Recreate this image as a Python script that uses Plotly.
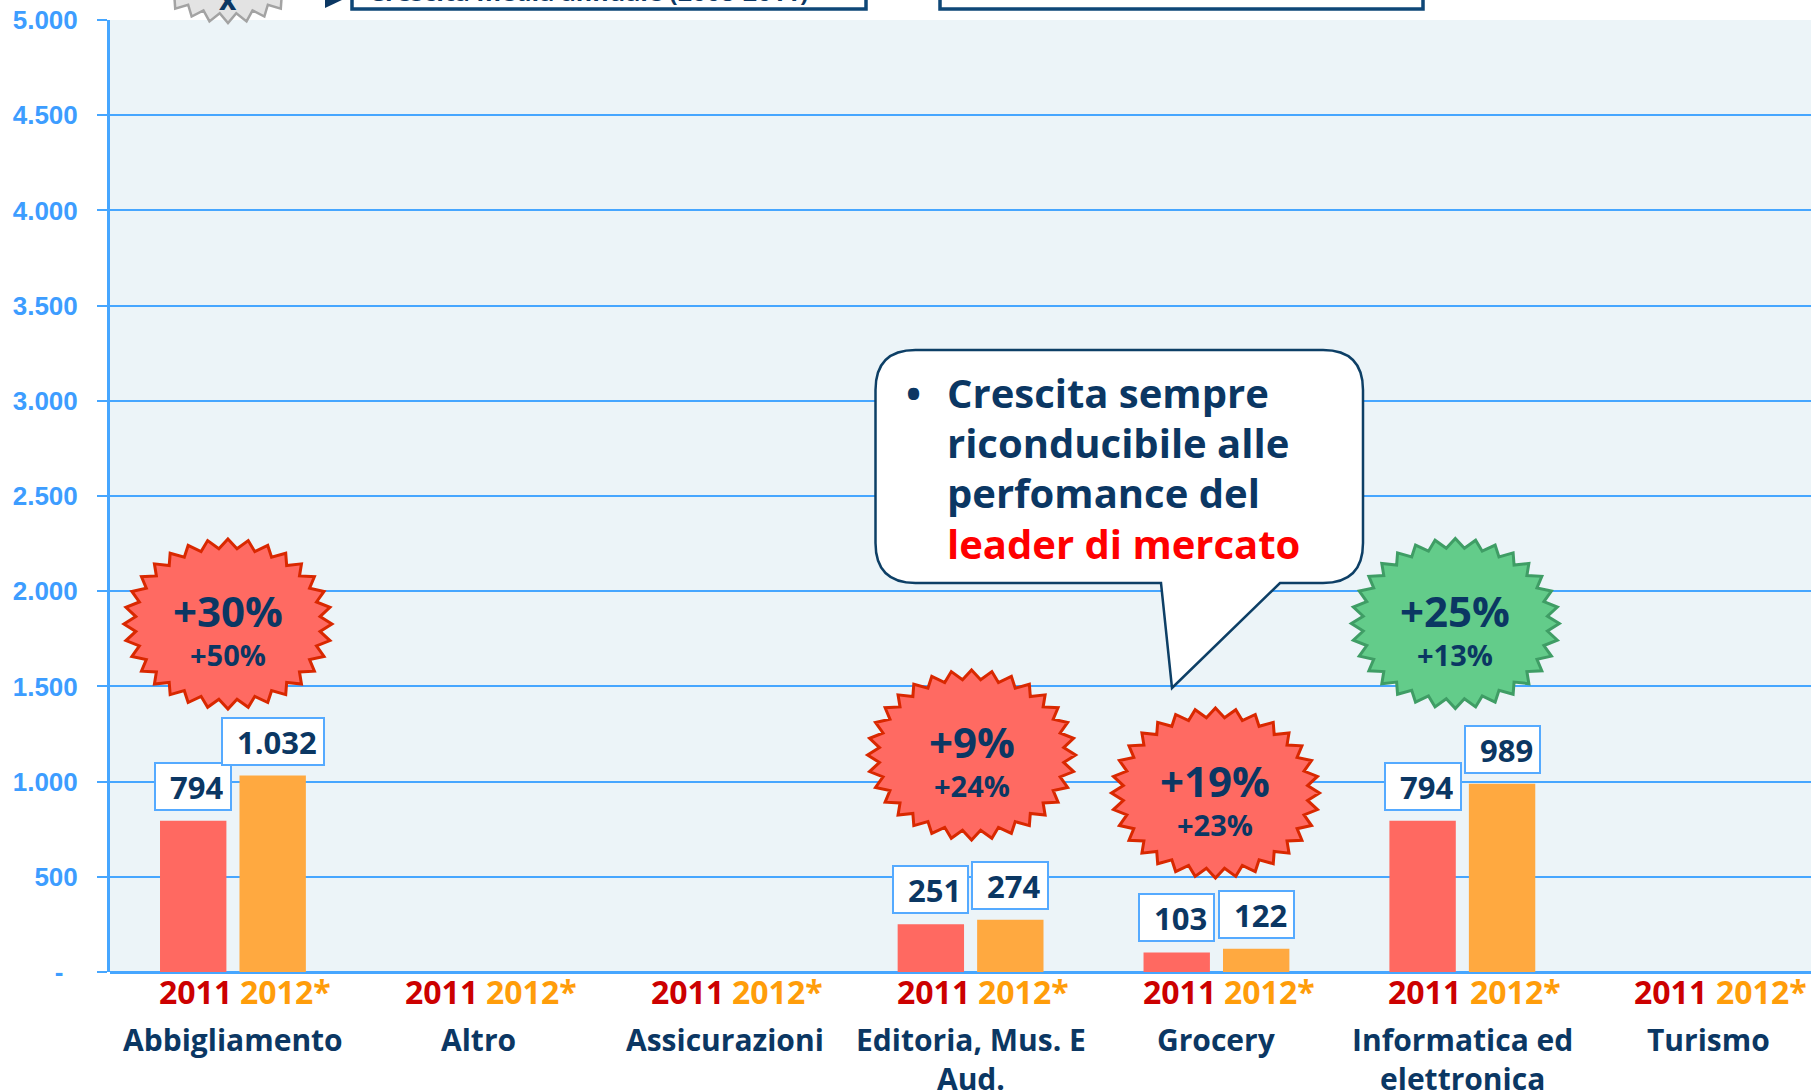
import numpy as np
import plotly.graph_objects as go

# ---------------- data ----------------
categories = ["Abbigliamento", "Altro", "Assicurazioni", "Editoria, Mus. E<br>Aud.",
              "Grocery", "Informatica ed<br>elettronica", "Turismo"]
series_names = ["2011", "2012*"]
values_2011 = [794, None, None, 251, 103, 794, None]
values_2012 = [1032, None, None, 274, 122, 989, None]
labels_2011 = ["794", "", "", "251", "103", "794", ""]
labels_2012 = ["1.032", "", "", "274", "122", "989", ""]
y_tick_values = [0, 500, 1000, 1500, 2000, 2500, 3000, 3500, 4000, 4500, 5000]
y_tick_labels = ["-\u00a0\u00a0", "500", "1.000", "1.500", "2.000", "2.500",
                 "3.000", "3.500", "4.000", "4.500", "5.000"]
burst_categories = [0, 3, 4, 5]
burst_big = ["+30%", "+9%", "+19%", "+25%"]
burst_small = ["+50%", "+24%", "+23%", "+13%"]
legend_box_text = "Crescita media annuale (2008-2011)"
callout_lines = ["Crescita sempre", "riconducibile alle", "perfomance del", "leader di mercato"]

# ---------------- layout constants ----------------
SW, SH = 1811, 1091                      # page / figure size
S_LEFT, S_TOP, S_BOTTOM = 110, 20, 972   # plot area edges
W, H = SW, SH
ML, MT = S_LEFT, S_TOP
MB = H - S_BOTTOM
MR = 0
X_RANGE = [-0.5, 6.418]
Y_RANGE = [0, 5000]
PW, PH = W - ML - MR, H - MT - MB
XPX = PW / (X_RANGE[1] - X_RANGE[0])
YPX = PH / (Y_RANGE[1] - Y_RANGE[0])

BARGAP, BARGROUPGAP = 0.3536, 0.1646
SLOT = (1 - BARGAP) / 2
OFF = SLOT / 2
BAR_W = SLOT * (1 - BARGROUPGAP)

NAVY = "#0b3763"
BLUE = "#46a6ff"
RED_BAR = "#ff6961"
ORANGE_BAR = "#ffa940"
FONT = "Open Sans"


def cat_px(i):
    return S_LEFT + (i - X_RANGE[0]) * XPX


def val_py(v):
    return S_BOTTOM - (v - Y_RANGE[0]) * YPX


def px_x(px):
    return X_RANGE[0] + (px - S_LEFT) / XPX


def py_y(py):
    return Y_RANGE[0] + (S_BOTTOM - py) / YPX


def px_paper(px):
    return (px - S_LEFT) / PW


def py_paper(py):
    return (S_BOTTOM - py) / PH


def burst_points(cx, cy, rx, ry, n=32, depth=0.89):
    pts = []
    for k in range(2 * n):
        a = np.pi * k / n - np.pi / 2
        r = 1.0 if k % 2 == 0 else depth
        pts.append((cx + r * rx * np.cos(a), cy + r * ry * np.sin(a)))
    return pts


def path_from(pts, fx, fy):
    return "M " + " L ".join(f"{fx(p[0]):.5f},{fy(p[1]):.5f}" for p in pts) + " Z"


x_idx = list(range(len(categories)))

fig = go.Figure()
fig.add_trace(go.Bar(x=x_idx, y=values_2011, name=series_names[0],
                     marker=dict(color=RED_BAR, line=dict(width=0))))
fig.add_trace(go.Bar(x=x_idx, y=values_2012, name=series_names[1],
                     marker=dict(color=ORANGE_BAR, line=dict(width=0))))

shapes = []
annotations = []

# value label boxes
for i in x_idx:
    for vals, labs, sgn in ((values_2011, labels_2011, -1), (values_2012, labels_2012, 1)):
        if vals[i] is None:
            continue
        annotations.append(dict(
            x=i + sgn * OFF, y=vals[i], xref="x", yref="y", yanchor="bottom",
            xanchor="center", yshift=10, showarrow=False,
            text="\u00a0" + labs[i], font=dict(family=FONT, size=31, color=NAVY, weight="bold"),
            bgcolor="white", bordercolor="#55aaff", borderwidth=2, borderpad=6, height=33))

# category year labels + names
for i in x_idx:
    annotations.append(dict(
        x=i - OFF - BAR_W / 2, y=0, xref="x", yref="y", xanchor="left", yanchor="middle",
        yshift=-19, xshift=-3, showarrow=False, text=series_names[0],
        font=dict(family=FONT, size=32, color="#cc0000", weight="bold")))
    annotations.append(dict(
        x=i + OFF - BAR_W / 2, y=0, xref="x", yref="y", xanchor="left", yanchor="middle",
        yshift=-19, xshift=-1, showarrow=False, text=series_names[1],
        font=dict(family=FONT, size=32, color="#ff9d0a", weight="bold")))
    annotations.append(dict(
        x=i, y=0, xref="x", yref="y", xanchor="center", yanchor="top",
        yshift=-45, showarrow=False, text=categories[i],
        font=dict(family=FONT, size=30, color=NAVY, weight="bold")))

# starbursts
burst_dx = [-5, 1, -1, -7]
burst_cy_val = [1828, 1140, 940, 1830]
burst_fill = ["#ff6a62", "#ff6a62", "#ff6a62", "#63cc8a"]
burst_line = ["#d92800", "#d92800", "#d92800", "#3f9d65"]
for k, ci in enumerate(burst_categories):
    cx = cat_px(ci) + burst_dx[k]
    cy = val_py(burst_cy_val[k])
    pts = burst_points(cx, cy, 104, 85)
    shapes.append(dict(type="path", xref="x", yref="y", path=path_from(pts, px_x, py_y),
                       fillcolor=burst_fill[k], line=dict(color=burst_line[k], width=3)))
    annotations.append(dict(x=px_x(cx), y=py_y(cy - 13), xref="x", yref="y", showarrow=False,
                            text=burst_big[k], xanchor="center", yanchor="middle",
                            font=dict(family=FONT, size=42, color=NAVY, weight="bold")))
    annotations.append(dict(x=px_x(cx), y=py_y(cy + 31), xref="x", yref="y", showarrow=False,
                            text=burst_small[k], xanchor="center", yanchor="middle",
                            font=dict(family=FONT, size=29, color=NAVY, weight="bold")))

# callout
L, R, T, B, r = 875.5, 1363, 350, 583, 40
tail = [(1280, B), (1172, 688), (1161, B)]


def P(x, y):
    return f"{px_x(x):.5f},{py_y(y):.5f}"


path = (f"M {P(L + r, T)} L {P(R - r, T)} Q {P(R, T)} {P(R, T + r)} "
        f"L {P(R, B - r)} Q {P(R, B)} {P(R - r, B)} "
        f"L {P(*tail[0])} L {P(*tail[1])} L {P(*tail[2])} "
        f"L {P(L + r, B)} Q {P(L, B)} {P(L, B - r)} L {P(L, T + r)} Q {P(L, T)} {P(L + r, T)} Z")
shapes.append(dict(type="path", xref="x", yref="y", path=path, fillcolor="white",
                   line=dict(color="#0d3f66", width=2.5)))
line_y = [392, 442, 492, 543]
annotations.append(dict(x=px_paper(913), y=py_paper(line_y[0]), xref="paper", yref="paper",
                        showarrow=False, text="•", xanchor="center", yanchor="middle",
                        font=dict(family=FONT, size=40, color=NAVY, weight="bold")))
for j, txt in enumerate(callout_lines):
    col = "#ff0000" if j == 3 else NAVY
    annotations.append(dict(x=px_paper(945), y=py_paper(line_y[j]), xref="paper", yref="paper",
                            showarrow=False, text=txt, xanchor="left", yanchor="middle",
                            font=dict(family=FONT, size=40, color=col, weight="bold")))

# top (cropped) legend elements
gpts = burst_points(228, -62, 95, 85)
shapes.append(dict(type="path", xref="paper", yref="paper", path=path_from(gpts, px_paper, py_paper),
                   fillcolor="#e3e3e3", line=dict(color="#a3a3a3", width=2.5)))
annotations.append(dict(x=px_paper(228), y=py_paper(-2), xref="paper", yref="paper", showarrow=False,
                        text="x", xanchor="center", yanchor="middle",
                        font=dict(family=FONT, size=30, color=NAVY, weight="bold")))
tri = [(325, -26), (361, -9), (325, 8)]
shapes.append(dict(type="path", xref="paper", yref="paper", path=path_from(tri, px_paper, py_paper),
                   fillcolor=NAVY, line=dict(width=0)))
for x0, x1 in ((352, 866), (940, 1423)):
    shapes.append(dict(type="rect", xref="paper", yref="paper",
                       x0=px_paper(x0), x1=px_paper(x1), y0=py_paper(9), y1=py_paper(-60),
                       fillcolor="white", line=dict(color="#0e4777", width=3.5)))
annotations.append(dict(x=px_paper(367), y=py_paper(-9), xref="paper", yref="paper", showarrow=False,
                        text=legend_box_text, xanchor="left", yanchor="middle",
                        font=dict(family=FONT, size=25, color=NAVY, weight="bold")))

fig.update_layout(
    width=W, height=H, margin=dict(l=ML, r=MR, t=MT, b=MB, pad=0),
    paper_bgcolor="white", plot_bgcolor="#ecf4f8",
    barmode="group", bargap=BARGAP, bargroupgap=BARGROUPGAP,
    showlegend=False, shapes=shapes, annotations=annotations,
    xaxis=dict(range=X_RANGE, showticklabels=False, showgrid=False, zeroline=False,
               showline=False, ticks="", fixedrange=True),
    yaxis=dict(range=Y_RANGE, tickvals=y_tick_values, ticktext=y_tick_labels,
               showgrid=True, gridcolor=BLUE, gridwidth=2,
               zeroline=True, zerolinecolor=BLUE, zerolinewidth=3,
               showline=True, linecolor=BLUE, linewidth=3,
               ticks="outside", ticklen=10, tickwidth=2, tickcolor=BLUE,
               ticklabelstandoff=14, ticklabeloverflow="allow", fixedrange=True,
               tickfont=dict(family="Liberation Sans", size=26, color="#3d9dff", weight="bold")),
)

fig.write_html("out.html", config={"displayModeBar": False},
               post_script="document.body.style.margin='0px';document.body.style.overflow='hidden';")
